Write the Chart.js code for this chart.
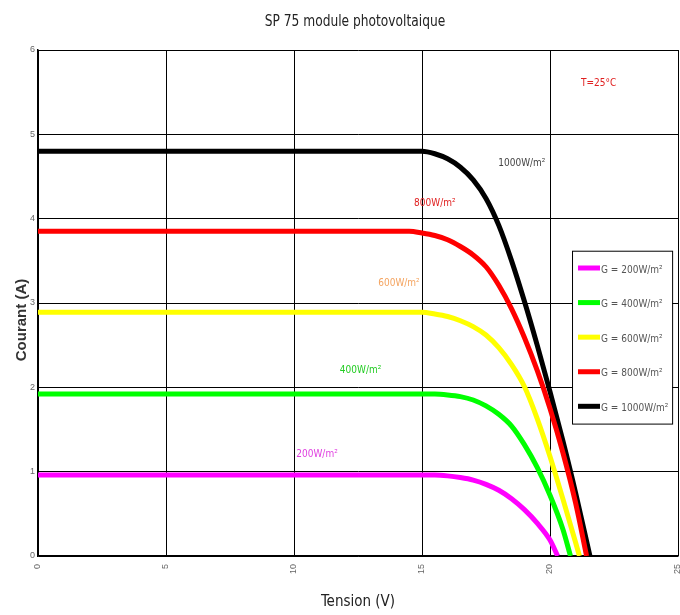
<!DOCTYPE html>
<html>
<head>
<meta charset="utf-8">
<script src="https://cdn.jsdelivr.net/npm/chart.js@4.4.1/dist/chart.umd.min.js"></script>
<style>
  html, body { margin: 0; padding: 0; background: #fff; }
  #wrap { width: 680px; height: 615px; }
</style>
</head>
<body>
<div id="wrap"><canvas id="ivChart" width="680" height="615"></canvas></div>
<script>
// I-V curves (V in volts, I in amps)
const seriesLabels = ['G = 200W/m²', 'G = 400W/m²', 'G = 600W/m²', 'G = 800W/m²', 'G = 1000W/m²'];
const curveLabels = ['200W/m²', '400W/m²', '600W/m²', '800W/m²', '1000W/m²'];

const v200 = [0, 5, 10, 15, 15.5, 16, 16.5, 17, 17.5, 18, 18.5, 19, 19.5, 20, 20.3];
const i200 = [0.96, 0.96, 0.96, 0.96, 0.96, 0.95, 0.93, 0.9, 0.85, 0.78, 0.68, 0.55, 0.39, 0.19, 0];

const v400 = [0, 5, 10, 15, 15.5, 16, 16.5, 17, 17.5, 18, 18.5, 19, 19.5, 20, 20.5, 20.8];
const i400 = [1.92, 1.92, 1.92, 1.92, 1.92, 1.91, 1.89, 1.85, 1.78, 1.68, 1.54, 1.32, 1.05, 0.72, 0.32, 0];

const v600 = [0, 5, 10, 15, 15.5, 16, 16.5, 17, 17.5, 18, 18.5, 19, 19.5, 20, 20.5, 21, 21.15];
const i600 = [2.89, 2.89, 2.89, 2.89, 2.87, 2.84, 2.79, 2.72, 2.62, 2.47, 2.27, 2.01, 1.63, 1.18, 0.68, 0.16, 0];

const v800 = [0, 5, 10, 14, 14.5, 15, 15.5, 16, 16.5, 17, 17.5, 18, 18.5, 19, 19.5, 20, 20.5, 21, 21.43];
const i800 = [3.85, 3.85, 3.85, 3.85, 3.85, 3.83, 3.8, 3.75, 3.67, 3.57, 3.43, 3.21, 2.93, 2.59, 2.2, 1.75, 1.23, 0.63, 0];

const v1000 = [0, 5, 10, 14, 14.5, 15, 15.5, 16, 16.5, 17, 17.5, 18, 18.5, 19, 19.5, 20, 20.5, 21, 21.56];
const i1000 = [4.8, 4.8, 4.8, 4.8, 4.8, 4.8, 4.77, 4.71, 4.61, 4.46, 4.24, 3.92, 3.5, 3.02, 2.5, 1.95, 1.37, 0.75, 0];

const xTicks = [0, 5, 10, 15, 20, 25];
const yTicks = [0, 1, 2, 3, 4, 5, 6];

const colors = ['#ff00ff', '#00ff00', '#ffff00', '#ff0000', '#000000'];
const labelColors = ['#e040e0', '#22cc22', '#f4a460', '#e02020', '#444444'];
// where the curve names sit, in data units [V, I]
const labelSpots = [[10.9, 1.2], [12.6, 2.2], [14.1, 3.23], [15.5, 4.18], [18.9, 4.65]];

function pts(vs, is) {
    return vs.map((v, k) => ({ x: v, y: is[k] }));
}

const curves = [[v200, i200], [v400, i400], [v600, i600], [v800, i800], [v1000, i1000]];

const datasets = curves.map((c, k) => ({
    label: seriesLabels[k],
    data: pts(c[0], c[1]),
    borderColor: colors[k],
    backgroundColor: colors[k],
    borderWidth: 5,
    pointRadius: 0,
    cubicInterpolationMode: 'monotone',
    fill: false
}));

const narrow = "'DejaVu Sans Condensed', 'Liberation Sans Narrow', 'Liberation Sans', sans-serif";

const notes = {
    id: 'notes',
    afterDatasetsDraw(chart) {
        const ctx = chart.ctx;
        const xs = chart.scales.x, ys = chart.scales.y;
        ctx.save();
        ctx.textAlign = 'center';
        ctx.textBaseline = 'middle';
        ctx.font = '10px ' + narrow;
        labelSpots.forEach((p, k) => {
            ctx.fillStyle = labelColors[k];
            ctx.fillText(curveLabels[k], xs.getPixelForValue(p[0]), ys.getPixelForValue(p[1]));
        });
        ctx.fillStyle = '#e02020';
        ctx.fillText('T=25°C', xs.getPixelForValue(21.9), ys.getPixelForValue(5.6));

        // legend box
        const x0 = xs.getPixelForValue(20.86), x1 = xs.getPixelForValue(24.77);
        const y0 = ys.getPixelForValue(3.62), y1 = ys.getPixelForValue(1.57);
        ctx.fillStyle = '#fff';
        ctx.fillRect(x0, y0, x1 - x0, y1 - y0);
        ctx.strokeStyle = '#000';
        ctx.lineWidth = 1;
        ctx.strokeRect(x0 + 0.5, y0 + 0.5, x1 - x0, y1 - y0);
        const step = (y1 - y0) / 5;
        ctx.textAlign = 'left';
        ctx.font = '10px ' + narrow;
        seriesLabels.forEach((lab, k) => {
            const yy = y0 + step * (k + 0.5);
            ctx.strokeStyle = colors[k];
            ctx.lineWidth = 5;
            ctx.beginPath();
            ctx.moveTo(x0 + 6, yy);
            ctx.lineTo(x0 + 28, yy);
            ctx.stroke();
            ctx.fillStyle = '#555';
            ctx.fillText(lab, x0 + 29, yy + 2);
        });

        // y axis title, sits a bit below the axis middle as in the picture
        ctx.save();
        ctx.translate(22, 320);
        ctx.rotate(-Math.PI / 2);
        ctx.textAlign = 'center';
        ctx.fillStyle = '#333';
        ctx.font = "bold 15px 'Liberation Sans', Arial, sans-serif";
        ctx.fillText('Courant (A)', 0, 0);
        ctx.restore();

        // chart title, narrow face squeezed a little
        ctx.save();
        ctx.translate(355, 22);
        ctx.scale(0.85, 1);
        ctx.textAlign = 'center';
        ctx.fillStyle = '#222';
        ctx.font = '16px ' + narrow;
        ctx.fillText('SP 75 module photovoltaique', 0, 0);
        ctx.restore();
        ctx.restore();
    }
};

new Chart(document.getElementById('ivChart').getContext('2d'), {
    type: 'line',
    data: { datasets: datasets },
    options: {
        responsive: false,
        animation: false,
        layout: { padding: { top: 50, left: 0, right: 2 } },
        plugins: {
            legend: { display: false },
            tooltip: { enabled: false },
            title: { display: false }
        },
        scales: {
            x: {
                type: 'linear',
                min: 0,
                max: 25,
                afterBuildTicks: s => { s.ticks = xTicks.map(v => ({ value: v })); },
                afterFit: s => { s.height = 59; s.paddingLeft = 0; s.paddingRight = 0; },
                ticks: {
                    color: '#666',
                    font: { size: 9 },
                    maxRotation: 90,
                    minRotation: 90,
                    padding: 8
                },
                grid: { color: '#000', lineWidth: 1, drawTicks: false },
                border: { color: '#000', width: 1.5 },
                title: {
                    display: true,
                    text: 'Tension (V)',
                    color: '#222',
                    font: { family: narrow, size: 15 },
                    padding: { top: 2 }
                }
            },
            y: {
                type: 'linear',
                min: 0,
                max: 6,
                afterBuildTicks: s => { s.ticks = yTicks.map(v => ({ value: v })); },
                afterFit: s => { s.width = 38; s.paddingTop = 0; s.paddingBottom = 0; },
                ticks: { color: '#666', font: { size: 9 }, padding: 3 },
                grid: { color: '#000', lineWidth: 1, drawTicks: false },
                border: { color: '#000', width: 1.5 }
            }
        }
    },
    plugins: [notes]
});
</script>
</body>
</html>
